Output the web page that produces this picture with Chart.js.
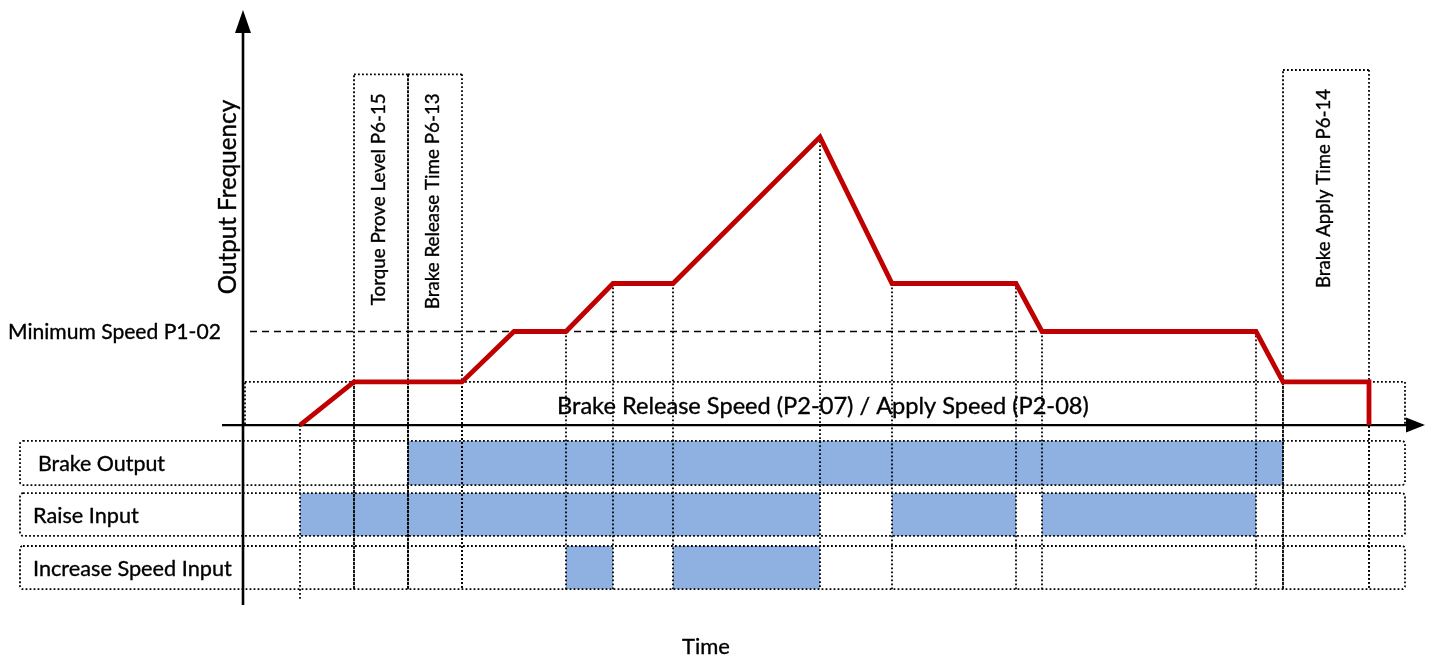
<!DOCTYPE html>
<html>
<head>
<meta charset="utf-8">
<title>Brake control timing</title>
<script src="https://cdn.jsdelivr.net/npm/chart.js@4.4.1/dist/chart.umd.min.js"></script>
<style>
  html, body { margin: 0; padding: 0; background: #fff; }
  #chart { display: block; }
</style>
</head>
<body>
<canvas id="chart" width="1435" height="660"></canvas>
<script>
// Output frequency profile (time units, frequency units)
const speedTimes  = [5.7, 11.1, 21.9, 27.1, 32.3, 37.0, 43.0, 57.7, 64.9, 77.3, 79.9, 101.3, 104.0, 112.6, 112.6];
const speedValues = [0,   9,    9,    19.5, 19.5, 29.5, 29.5, 60,   29.5, 29.5, 19.5, 19.5,  9,     9,     0];

const brakeSpeed = 9;      // P2-07 / P2-08
const minSpeed = 19.5;     // P1-02
const minSpeedLine = [0.7, 84.4];

// times where a dotted guide drops down to the signal rows
const markerTimes = [5.7, 11.1, 16.5, 21.9, 32.3, 37.0, 43.0, 57.7, 64.9, 77.3, 79.9, 101.3, 104.0, 112.6];

// parameter windows drawn as dotted boxes above the curve
const paramLabels = ['Torque Prove Level P6-15', 'Brake Release Time P6-13', 'Brake Apply Time P6-14'];
const paramStart  = [11.1, 16.5, 104.0];
const paramEnd    = [16.5, 21.9, 112.6];

// digital signals: on intervals
const rowLabels = ['Brake Output', 'Raise Input', 'Increase Speed Input'];
const brakeOutputOn   = [[16.5, 104.0]];
const raiseInputOn    = [[5.7, 57.7], [64.9, 77.3], [79.9, 101.3]];
const increaseSpeedOn = [[32.3, 37.0], [43.0, 57.7]];
const rowIntervals = [brakeOutputOn, raiseInputOn, increaseSpeedOn];

// layout (data units of the hidden scales)
const layout = {
  xMin: -22.3, xMax: 118.2, yMin: -37.5, yMax: 86.5,
  rowTop: [-3.3, -14.2, -25.2], rowBottom: [-12.5, -23.1, -34.2],
  boxTop: [73.1, 73.1, 74.0], rowLeft: -22.3, right: 116.2
};

const BLUE = '#8eb1e1';
const RED = '#c00000';

function speedAt(t) {
  let best = null;
  for (let i = 0; i < speedTimes.length; i++) {
    if (speedTimes[i] === t) best = best === null ? speedValues[i] : Math.max(best, speedValues[i]);
  }
  if (best !== null) return best;
  for (let i = 0; i < speedTimes.length - 1; i++) {
    const a = speedTimes[i], b = speedTimes[i + 1];
    if (t > a && t < b) return speedValues[i] + (speedValues[i + 1] - speedValues[i]) * (t - a) / (b - a);
  }
  return 0;
}

function fitFont(ctx, text, width) {
  ctx.font = '20px Lato';
  const size = 20 * width / ctx.measureText(text).width;
  ctx.font = size.toFixed(1) + 'px Lato';
}

function label(ctx, text, x, y) {
  ctx.fillText(text, x, y);
  ctx.strokeText(text, x, y);
}

function dotted(ctx) {
  ctx.strokeStyle = '#000';
  ctx.lineWidth = 1.8;
  ctx.setLineDash([1.8, 2.2]);
}

function line(ctx, x1, y1, x2, y2) {
  ctx.beginPath();
  ctx.moveTo(x1, y1);
  ctx.lineTo(x2, y2);
  ctx.stroke();
}

const diagramPlugin = {
  id: 'diagram',
  beforeDatasetsDraw(chart) {
    const ctx = chart.ctx;
    const xs = chart.scales.x, ys = chart.scales.y;
    const X = v => xs.getPixelForValue(v);
    const Y = v => ys.getPixelForValue(v);
    ctx.save();

    // signal blocks
    ctx.fillStyle = BLUE;
    rowIntervals.forEach((ints, r) => {
      ints.forEach(([a, b]) => {
        ctx.fillRect(X(a), Y(layout.rowTop[r]), X(b) - X(a), Y(layout.rowBottom[r]) - Y(layout.rowTop[r]));
      });
    });

    // row boxes
    dotted(ctx);
    rowLabels.forEach((_, r) => {
      ctx.beginPath();
      ctx.roundRect(X(layout.rowLeft), Y(layout.rowTop[r]), X(layout.right) - X(layout.rowLeft),
        Y(layout.rowBottom[r]) - Y(layout.rowTop[r]), 3);
      ctx.stroke();
    });

    // brake speed band
    ctx.beginPath();
    ctx.rect(X(0.2), Y(brakeSpeed), X(layout.right) - X(0.2), Y(0) - Y(brakeSpeed));
    ctx.stroke();

    // guides
    markerTimes.forEach((t, i) => {
      const bottom = i === 0 ? -36.5 : layout.rowBottom[2];
      line(ctx, X(t), Y(speedAt(t)), X(t), Y(bottom));
    });

    // parameter boxes
    paramLabels.forEach((_, i) => {
      const a = X(paramStart[i]), b = X(paramEnd[i]), top = Y(layout.boxTop[i]);
      const bottom = Y(layout.rowBottom[2]);
      line(ctx, a, bottom, a, top);
      line(ctx, a, top, b, top);
      line(ctx, b, top, b, bottom);
    });

    // axes with arrow heads
    ctx.setLineDash([]);
    ctx.strokeStyle = '#000';
    ctx.fillStyle = '#000';
    ctx.lineWidth = 2.6;
    line(ctx, X(0), Y(layout.yMin), X(0), Y(layout.yMax) + 20);
    ctx.beginPath();
    ctx.moveTo(X(0), Y(layout.yMax));
    ctx.lineTo(X(0) - 8, Y(layout.yMax) + 23);
    ctx.lineTo(X(0) + 8, Y(layout.yMax) + 23);
    ctx.closePath();
    ctx.fill();
    ctx.lineWidth = 2.2;
    line(ctx, X(-2.1), Y(0), X(layout.xMax) - 18, Y(0));
    ctx.beginPath();
    ctx.moveTo(X(layout.xMax), Y(0));
    ctx.lineTo(X(layout.xMax) - 19, Y(0) - 7.5);
    ctx.lineTo(X(layout.xMax) - 19, Y(0) + 7.5);
    ctx.closePath();
    ctx.fill();

    // texts
    ctx.fillStyle = '#000';
    ctx.strokeStyle = '#000';
    ctx.lineWidth = 0.35;
    ctx.textBaseline = 'middle';
    ctx.textAlign = 'left';
    fitFont(ctx, 'Minimum Speed P1-02', 213);
    label(ctx, 'Minimum Speed P1-02', 8, Y(minSpeed) + 1);

    fitFont(ctx, 'Brake Release Speed (P2-07) / Apply Speed (P2-08)', 533);
    label(ctx, 'Brake Release Speed (P2-07) / Apply Speed (P2-08)', 557, Y(brakeSpeed / 2) + 3);

    const rowWidths = [127, 106, 199];
    const rowX = [38, 33, 33];
    rowLabels.forEach((lab, r) => {
      fitFont(ctx, lab, rowWidths[r]);
      label(ctx, lab, rowX[r], (Y(layout.rowTop[r]) + Y(layout.rowBottom[r])) / 2 + 1);
    });

    ctx.textAlign = 'center';
    fitFont(ctx, 'Time', 48);
    label(ctx, 'Time', 706, 647);

    // rotated labels
    const vert = (text, x, y, width, align) => {
      ctx.save();
      ctx.translate(x, y);
      ctx.rotate(-Math.PI / 2);
      ctx.textAlign = align;
      fitFont(ctx, text, width);
      label(ctx, text, 0, 0);
      ctx.restore();
    };
    vert('Output Frequency', 228, 197, 194, 'center');
    const paramWidths = [212, 216, 199];
    paramLabels.forEach((lab, i) => {
      const cx = (X(paramStart[i]) + X(paramEnd[i])) / 2 - 2;
      vert(lab, cx, Y(layout.boxTop[i]) + 19, paramWidths[i], 'right');
    });

    ctx.restore();
  }
};

new Chart(document.getElementById('chart').getContext('2d'), {
  type: 'line',
  data: {
    datasets: [
      {
        label: 'Output Frequency',
        data: speedTimes.map((t, i) => ({ x: t, y: speedValues[i] })),
        borderColor: RED,
        borderWidth: 4.8,
        borderJoinStyle: 'miter',
        pointRadius: 0,
        tension: 0,
        fill: false
      },
      {
        label: 'Minimum Speed P1-02',
        data: minSpeedLine.map(t => ({ x: t, y: minSpeed })),
        borderColor: '#000',
        borderWidth: 1.6,
        borderDash: [7, 5],
        pointRadius: 0,
        fill: false
      }
    ]
  },
  options: {
    responsive: false,
    animation: false,
    devicePixelRatio: 1,
    layout: { padding: { left: 20, right: 10, top: 10, bottom: 55 } },
    scales: {
      x: { type: 'linear', min: layout.xMin, max: layout.xMax, display: false },
      y: { type: 'linear', min: layout.yMin, max: layout.yMax, display: false }
    },
    plugins: {
      legend: { display: false },
      tooltip: { enabled: false }
    }
  },
  plugins: [diagramPlugin]
});
</script>
</body>
</html>
